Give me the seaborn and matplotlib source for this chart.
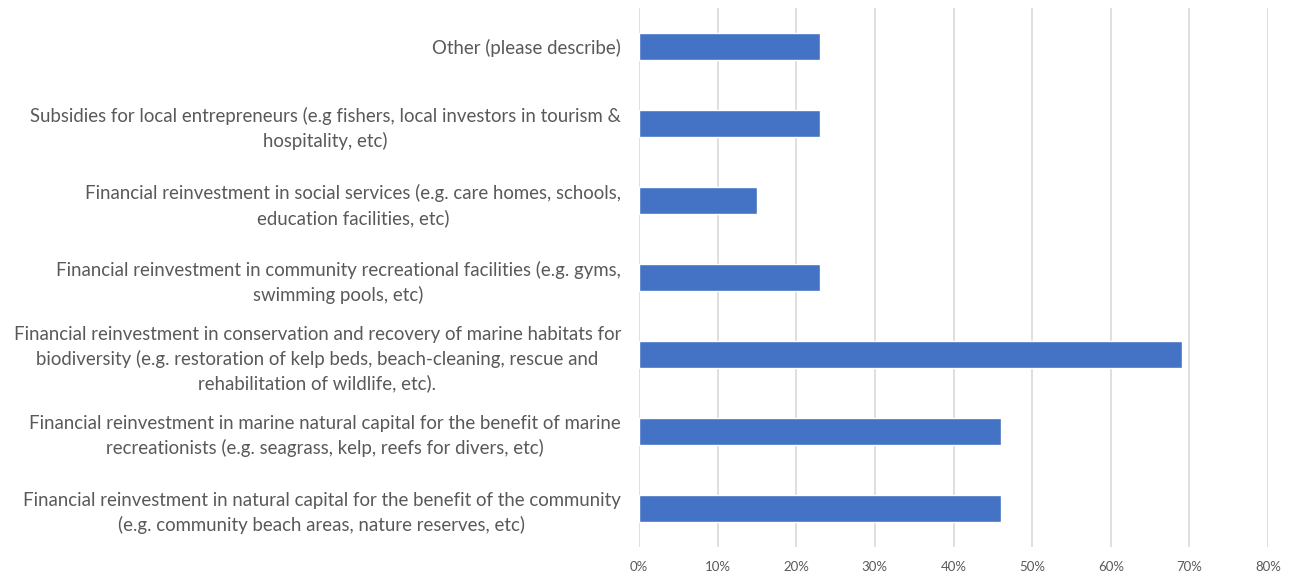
import matplotlib
matplotlib.use("Agg")
import matplotlib.pyplot as plt
import seaborn as sns
import pandas as pd
from matplotlib.ticker import PercentFormatter, MultipleLocator

categories = [
    "Other (please describe)",
    "Subsidies for local entrepreneurs (e.g fishers, local investors in tourism &\nhospitality, etc)",
    "Financial reinvestment in social services (e.g. care homes, schools,\neducation facilities, etc)",
    "Financial reinvestment in community recreational facilities (e.g. gyms,\nswimming pools, etc)",
    "Financial reinvestment in conservation and recovery of marine habitats for\nbiodiversity (e.g. restoration of kelp beds, beach-cleaning, rescue and\nrehabilitation of wildlife, etc).",
    "Financial reinvestment in marine natural capital for the benefit of marine\nrecreationists (e.g. seagrass, kelp, reefs for divers, etc)",
    "Financial reinvestment in natural capital for the benefit of the community\n(e.g. community beach areas, nature reserves, etc)",
]
shares = [0.23, 0.23, 0.15, 0.23, 0.69, 0.46, 0.46]

df = pd.DataFrame({"category": categories, "share": shares})

sns.set_theme(style="white")
plt.rcParams["font.family"] = ["Lato", "DejaVu Sans"]

fig = plt.figure(figsize=(12.95, 5.74), dpi=100)
ax = fig.add_axes([0.4934, 0.047, 0.4858, 0.939])

sns.barplot(data=df, x="share", y="category", orient="h", color="#4472C4",
            width=0.35, saturation=1, ax=ax, zorder=3)

ax.set_xlim(0, 0.8)
ax.set_ylim(6.5, -0.5)
ax.xaxis.set_major_locator(MultipleLocator(0.1))
ax.xaxis.set_major_formatter(PercentFormatter(xmax=1, decimals=0))
ax.grid(axis="x", color="#D9D9D9", linewidth=1.2, zorder=0)
ax.grid(axis="y", visible=False)
for s in ax.spines.values():
    s.set_visible(False)
ax.set_xlabel("")
ax.set_ylabel("")
ax.tick_params(axis="x", length=0, pad=10, labelsize=9.5, labelcolor="#595959")
ax.tick_params(axis="y", length=0, pad=13, labelsize=13.4, labelcolor="#595959")
for lbl in ax.get_yticklabels():
    lbl.set_multialignment("center")
    lbl.set_linespacing(1.45)

fig.savefig("out.png", dpi=100)
